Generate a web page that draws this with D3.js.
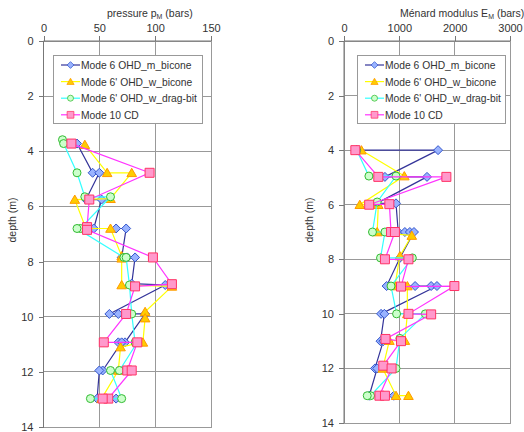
<!DOCTYPE html>
<meta charset="utf-8">
<head>
  <style>
    body { margin: 0; background: #fff; }
    svg { background: #fff; font-family: "Liberation Sans", Arial, sans-serif; }
    .grid line { stroke: #999; stroke-width: 1px; shape-rendering: crispEdges; }
    .frame { fill: none; stroke: #999; shape-rendering: crispEdges; }
    .axis path, .axis line { stroke: #777; shape-rendering: crispEdges; }
    .axis text { font-size: 11px; fill: #333; }
    .title { font-size: 10.5px; fill: #333; }
    .legend rect { fill: #fff; stroke: #999; shape-rendering: crispEdges; }
    .legend text { font-size: 10.3px; fill: #333; }
    path.line { fill: none; stroke-width: 1.2px; }
  </style>
  <script src="https://cdn.jsdelivr.net/npm/d3@7"></script>
</head>
<body>
<script>
  // [depth (m), value] pairs
  var seriesNames = ["Mode 6 OHD_m_bicone", "Mode 6' OHD_w_bicone", "Mode 6' OHD_w_drag-bit", "Mode 10 CD"];

  var pressBlue = [[3.72,30],[4.78,44],[4.78,50],[5.75,38],[5.75,52],[6.8,45],[6.8,65],[6.8,74],[7.85,70],[7.85,75],[7.85,82],
                   [8.8,79],[8.85,109],[9.9,59],[9.9,67],[9.9,91],[10.93,73],[10.93,67],[10.93,70],[11.95,53],[11.95,50],[12.97,48],[12.97,65]];
  var pressYellow = [[3.76,37],[4.78,57],[4.78,79],[5.72,60],[5.75,28],[6.8,38],[6.8,60],[7.8,70],[7.88,70],[8.85,70],[8.9,115],
                     [9.82,91],[10.05,91],[10.93,89],[11.1,69],[11.95,67],[12.97,52]];
  var pressGreen = [[3.58,17],[3.72,18],[4.78,30],[5.65,37],[5.65,60],[6.8,33],[6.8,30],[7.85,72],[7.85,74],[8.85,77],[9.9,79],
                    [10.93,82],[10.93,84],[11.95,68],[11.95,60],[12.97,70],[12.97,42]];
  var pressPink = [[3.72,25],[4.78,95],[5.75,41],[6.75,39],[6.85,39],[7.85,98],[8.82,115],[8.9,82],[9.9,74],[10.93,54],[10.93,84],
                   [11.95,75],[11.95,79],[12.97,58],[12.97,53]];

  var modBlue = [[4.0,230],[4.0,1700],[4.98,740],[4.98,1500],[5.95,590],[5.95,940],[7.0,980],[7.0,1100],[7.0,1190],[7.0,1265],
                 [7.95,1010],[8.98,770],[8.98,1285],[8.98,1575],[8.98,1680],[10.0,670],[10.0,730],[11.0,660],[11.0,710],
                 [12.0,560],[12.0,600],[13.0,455],[13.0,900]];
  var modYellow = [[4.0,315],[4.95,1090],[6.0,285],[6.0,620],[7.0,600],[7.13,1225],[7.88,1010],[8.98,920],[8.98,1145],[10.0,1145],
                   [10.98,1100],[10.98,820],[12.0,700],[13.0,940],[13.0,1165]];
  var modGreen = [[4.0,230],[4.95,450],[4.95,940],[5.9,600],[7.0,515],[7.0,740],[7.95,660],[7.95,1235],[8.98,850],[10.0,950],
                  [10.0,1470],[10.9,1010],[12.0,940],[13.0,480],[13.0,420]];
  var modPink = [[4.0,205],[4.98,620],[4.98,1850],[6.0,455],[5.98,820],[7.0,850],[7.0,920],[8.0,740],[8.0,1165],[9.0,1030],
                 [8.98,1995],[10.0,1165],[10.02,1575],[10.92,750],[11.0,1030],[11.9,710],[12.0,860],[13.0,640],[13.0,740]];

  var pressTicks = [0, 50, 100, 150];
  var modTicks = [0, 1000, 2000, 3000];
  var depthTicks = [0, 2, 4, 6, 8, 10, 12, 14];

  var styles = [
    {line: "#333399", fill: "#99b3ff", stroke: "#3355cc", shape: "diamond"},
    {line: "#ffff00", fill: "#ffcc00", stroke: "#ff9900", shape: "triangle"},
    {line: "#33ffff", fill: "#ccffcc", stroke: "#33bb33", shape: "circle"},
    {line: "#ff33ff", fill: "#ff99cc", stroke: "#ff3366", shape: "square"}
  ];

  var svg = d3.select("body").append("svg").attr("width", 524).attr("height", 432);

  function marker(sel, st) {
    if (st.shape === "circle") {
      sel.append("circle").attr("r", 4);
    } else {
      var d = st.shape === "diamond" ? "M0,-4.5L4.5,0L0,4.5L-4.5,0Z"
            : st.shape === "triangle" ? "M0,-4.5L4.8,3.8L-4.8,3.8Z"
            : "M-4.5,-4.5H4.5V4.5H-4.5Z";
      sel.append("path").attr("d", d);
    }
    sel.selectAll("*").attr("fill", st.fill).attr("stroke", st.stroke).attr("stroke-width", 1);
  }

  function chart(opt) {
    var x = d3.scaleLinear().domain([0, opt.xmax]).range([opt.x0, opt.x1]);
    var y = d3.scaleLinear().domain([0, 14]).range([opt.y0, opt.y1]);
    var g = svg.append("g");

    // grid
    var grid = g.append("g").attr("class", "grid");
    grid.selectAll(".gx").data(opt.xticks.slice(1)).enter().append("line")
        .attr("x1", function(d){ return x(d); }).attr("x2", function(d){ return x(d); })
        .attr("y1", opt.y0).attr("y2", opt.y1);
    grid.selectAll(".gy").data(depthTicks.slice(1)).enter().append("line")
        .attr("x1", opt.x0).attr("x2", opt.x1)
        .attr("y1", function(d){ return y(d); }).attr("y2", function(d){ return y(d); });
    g.append("rect").attr("class", "frame")
        .attr("x", opt.x0).attr("y", opt.y0).attr("width", opt.x1 - opt.x0).attr("height", opt.y1 - opt.y0);

    g.append("g").attr("class", "axis").attr("transform", "translate(0," + opt.y0 + ")")
        .call(d3.axisTop(x).tickValues(opt.xticks).tickSize(5).tickPadding(4).tickFormat(d3.format("d")));
    g.append("g").attr("class", "axis").attr("transform", "translate(" + opt.x0 + ",0)")
        .call(d3.axisLeft(y).tickValues(depthTicks).tickSize(5).tickPadding(5));
    g.selectAll(".axis .domain").remove();
    g.append("line").attr("stroke", "#777")
        .attr("x1", opt.x0).attr("x2", opt.x0).attr("y1", opt.y0).attr("y2", opt.y1);
    g.append("line").attr("stroke", "#777")
        .attr("x1", opt.x0).attr("x2", opt.x1).attr("y1", opt.y0).attr("y2", opt.y0);

    // titles
    var t = g.append("text").attr("class", "title").attr("x", opt.titleX).attr("y", 17);
    t.append("tspan").text(opt.title[0]);
    t.append("tspan").attr("font-size", "7px").attr("dy", 2).text(opt.title[1]);
    t.append("tspan").attr("dy", -2).text(opt.title[2]);
    g.append("text").attr("class", "title").attr("transform", "translate(" + opt.depthX + ",220)rotate(-90)")
        .attr("text-anchor", "middle").text("depth (m)");

    // series
    var line = d3.line().x(function(d){ return x(d[1]); }).y(function(d){ return y(d[0]); });
    opt.series.forEach(function(data, i) {
      var st = styles[i];
      g.append("path").attr("class", "line").attr("stroke", st.line).attr("d", line(data));
      g.selectAll(".m" + i).data(data).enter().append("g")
        .attr("transform", function(d){ return "translate(" + x(d[1]) + "," + y(d[0]) + ")"; })
        .each(function() { marker(d3.select(this), st); });
    });

    // legend
    var lg = g.append("g").attr("class", "legend");
    lg.append("rect").attr("x", opt.lx).attr("y", 55).attr("width", opt.lw).attr("height", 68);
    seriesNames.forEach(function(name, i) {
      var st = styles[i], yy = 65 + i * 16.6;
      lg.append("line").attr("x1", opt.lx + 8).attr("x2", opt.lx + 27).attr("y1", yy).attr("y2", yy)
        .attr("stroke", st.line).attr("stroke-width", 1.2);
      var m = lg.append("g").attr("transform", "translate(" + (opt.lx + 17.5) + "," + yy + ")scale(0.75)");
      marker(m, st);
      lg.append("text").attr("x", opt.lx + 28).attr("y", yy + 4).text(name);
    });
  }

  chart({xmax: 150, x0: 43.5, x1: 211, y0: 41, y1: 427, xticks: pressTicks,
         title: ["pressure p", "M", " (bars)"], titleX: 107, depthX: 16,
         series: [pressBlue, pressYellow, pressGreen, pressPink], lx: 53, lw: 149});
  chart({xmax: 3000, x0: 344, x1: 510, y0: 41, y1: 423, xticks: modTicks,
         title: ["Ménard modulus  E", "M", " (bars)"], titleX: 400, depthX: 313,
         series: [modBlue, modYellow, modGreen, modPink], lx: 357, lw: 148});
</script>
</body>
